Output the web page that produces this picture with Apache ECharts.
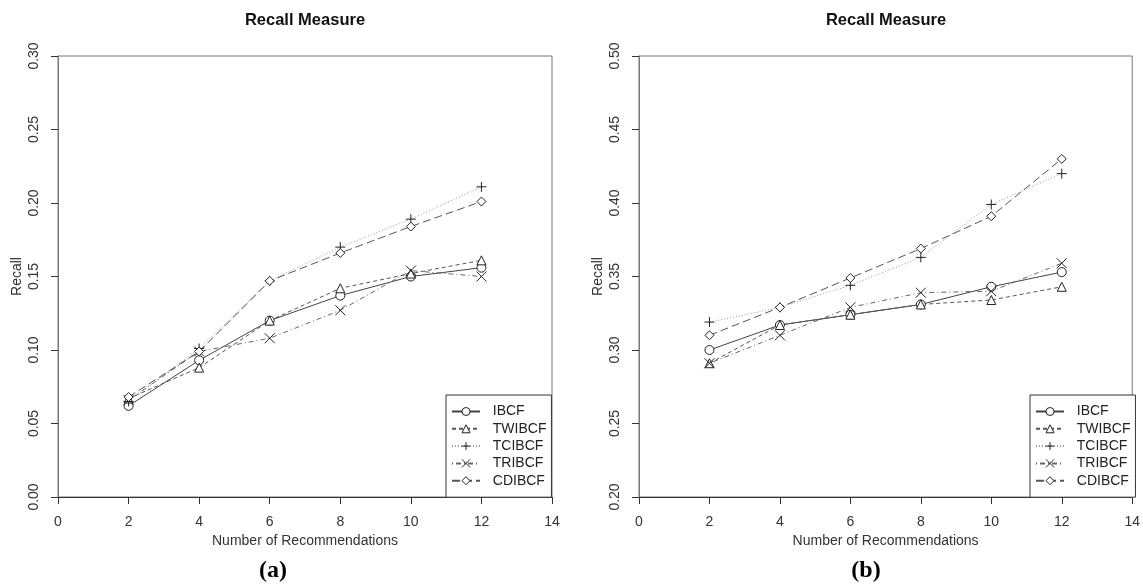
<!DOCTYPE html>
<html><head><meta charset="utf-8">
<script src="https://cdn.jsdelivr.net/npm/echarts@6/dist/echarts.min.js"></script>
<style>html,body{margin:0;padding:0;background:#fff}#c{width:1143px;height:584px}</style>
</head><body><div id="c"></div>
<script>
var xs = [2, 4, 6, 8, 10, 12];
var seriesNames = ['IBCF', 'TWIBCF', 'TCIBCF', 'TRIBCF', 'CDIBCF'];
var xTicks = [0, 2, 4, 6, 8, 10, 12, 14];
// (a)
var aIBCF   = [0.062, 0.093, 0.120, 0.137, 0.150, 0.156];
var aTWIBCF = [0.067, 0.088, 0.120, 0.142, 0.152, 0.161];
var aTCIBCF = [0.065, 0.101, 0.147, 0.170, 0.189, 0.211];
var aTRIBCF = [0.066, 0.099, 0.108, 0.127, 0.154, 0.150];
var aCDIBCF = [0.068, 0.099, 0.147, 0.166, 0.184, 0.201];
var aYTicks = [0.00, 0.05, 0.10, 0.15, 0.20, 0.25, 0.30];
// (b)
var bIBCF   = [0.300, 0.317, 0.324, 0.331, 0.343, 0.353];
var bTWIBCF = [0.291, 0.317, 0.324, 0.331, 0.334, 0.343];
var bTCIBCF = [0.319, 0.329, 0.344, 0.363, 0.399, 0.420];
var bTRIBCF = [0.291, 0.310, 0.329, 0.339, 0.340, 0.359];
var bCDIBCF = [0.310, 0.329, 0.349, 0.369, 0.391, 0.430];
var bYTicks = [0.20, 0.25, 0.30, 0.35, 0.40, 0.45, 0.50];

var FONT = '"Liberation Sans", Arial, sans-serif';
var styles = {
  IBCF:   {symbol: 'circle', line: 'solid', color: '#444'},
  TWIBCF: {symbol: 'triangle', line: [4, 3], color: '#555'},
  TCIBCF: {symbol: 'path://M5,0 L5,10 M0,5 L10,5', line: [1, 2], color: '#999'},
  TRIBCF: {symbol: 'path://M0,0 L10,10 M10,0 L0,10', line: [1, 3, 5, 3], color: '#666'},
  CDIBCF: {symbol: 'path://M5,0 L10,5 L5,10 L0,5 Z', line: [8, 4], color: '#555'}
};
var aData = {IBCF: aIBCF, TWIBCF: aTWIBCF, TCIBCF: aTCIBCF, TRIBCF: aTRIBCF, CDIBCF: aCDIBCF};
var bData = {IBCF: bIBCF, TWIBCF: bTWIBCF, TCIBCF: bTCIBCF, TRIBCF: bTRIBCF, CDIBCF: bCDIBCF};

function mkSeries(dataMap, idx) {
  return seriesNames.map(function (n) {
    var s = styles[n];
    var open = (n === 'TCIBCF' || n === 'TRIBCF');
    return {
      name: n, type: 'line', xAxisIndex: idx, yAxisIndex: idx,
      data: xs.map(function (x, i) { return [x, dataMap[n][i]]; }),
      symbol: s.symbol,
      symbolSize: open ? 10 : 9,
      showAllSymbol: true,
      lineStyle: {color: s.color, width: 1, type: s.line},
      itemStyle: {color: open ? 'rgba(0,0,0,0)' : '#fff', borderColor: '#222', borderWidth: 1},
      emphasis: {disabled: true},
      animation: false, z: 3
    };
  });
}

function mkX(idx) {
  return {
    type: 'value', gridIndex: idx, min: 0, max: 14, interval: 2,
    name: 'Number of Recommendations', nameLocation: 'middle', nameGap: 37,
    nameTextStyle: {fontFamily: FONT, fontSize: 14, color: '#333'},
    axisLine: {show: true, lineStyle: {color: '#333'}},
    axisTick: {show: true, length: 7, lineStyle: {color: '#333'}},
    axisLabel: {fontFamily: FONT, fontSize: 14, color: '#333', margin: 18,
      formatter: function (v) { return xTicks.indexOf(v) >= 0 ? String(v) : ''; }},
    splitLine: {show: false}
  };
}
function mkY(idx, ticks) {
  return {
    type: 'value', gridIndex: idx, min: ticks[0], max: ticks[ticks.length - 1], interval: 0.05,
    name: 'Recall', nameLocation: 'middle', nameGap: 34,
    nameTextStyle: {fontFamily: FONT, fontSize: 14, color: '#333'},
    axisLine: {show: true, lineStyle: {color: '#777'}},
    axisTick: {show: true, length: 7, lineStyle: {color: '#333'}},
    axisLabel: {fontFamily: FONT, fontSize: 14, color: '#333', rotate: 90, margin: 17,
      formatter: function (v) { return v.toFixed(2); }},
    splitLine: {show: false}
  };
}
function mkLegend(left) {
  return {
    orient: 'vertical', left: left, top: 395,
    data: seriesNames, itemWidth: 28, itemHeight: 10, itemGap: 2.3,
    formatter: function (name) { return '  ' + name; },
    borderColor: '#333', borderWidth: 1, padding: [9, 5, 9, 5],
    backgroundColor: '#fff', selectedMode: false,
    itemStyle: {borderWidth: 1},
    textStyle: {fontFamily: FONT, fontSize: 14, color: '#222', lineHeight: 15}
  };
}

var chart = echarts.init(document.getElementById('c'), null, {renderer: 'canvas'});
chart.setOption({
  backgroundColor: '#fff',
  animation: false,
  grid: [
    {left: 58, top: 56, width: 494, height: 441, show: true, borderColor: '#777', borderWidth: 1},
    {left: 639, top: 56, width: 494, height: 441, show: true, borderColor: '#777', borderWidth: 1}
  ],
  xAxis: [mkX(0), mkX(1)],
  yAxis: [mkY(0, aYTicks), mkY(1, bYTicks)],
  legend: [mkLegend(446), mkLegend(1030)],
  series: mkSeries(aData, 0).concat(mkSeries(bData, 1)),
  graphic: [
    {type: 'text', x: 305, y: 20, style: {text: 'Recall Measure', font: 'bold 16.5px ' + FONT, fill: '#111', align: 'center', verticalAlign: 'middle'}},
    {type: 'text', x: 886, y: 20, style: {text: 'Recall Measure', font: 'bold 16.5px ' + FONT, fill: '#111', align: 'center', verticalAlign: 'middle'}},
    {type: 'text', x: 273, y: 571, style: {text: '(a)', font: 'bold 24px "Liberation Serif", "DejaVu Serif", serif', fill: '#000', align: 'center', verticalAlign: 'middle'}},
    {type: 'text', x: 866, y: 571, style: {text: '(b)', font: 'bold 24px "Liberation Serif", "DejaVu Serif", serif', fill: '#000', align: 'center', verticalAlign: 'middle'}}
  ]
});
</script></body></html>
